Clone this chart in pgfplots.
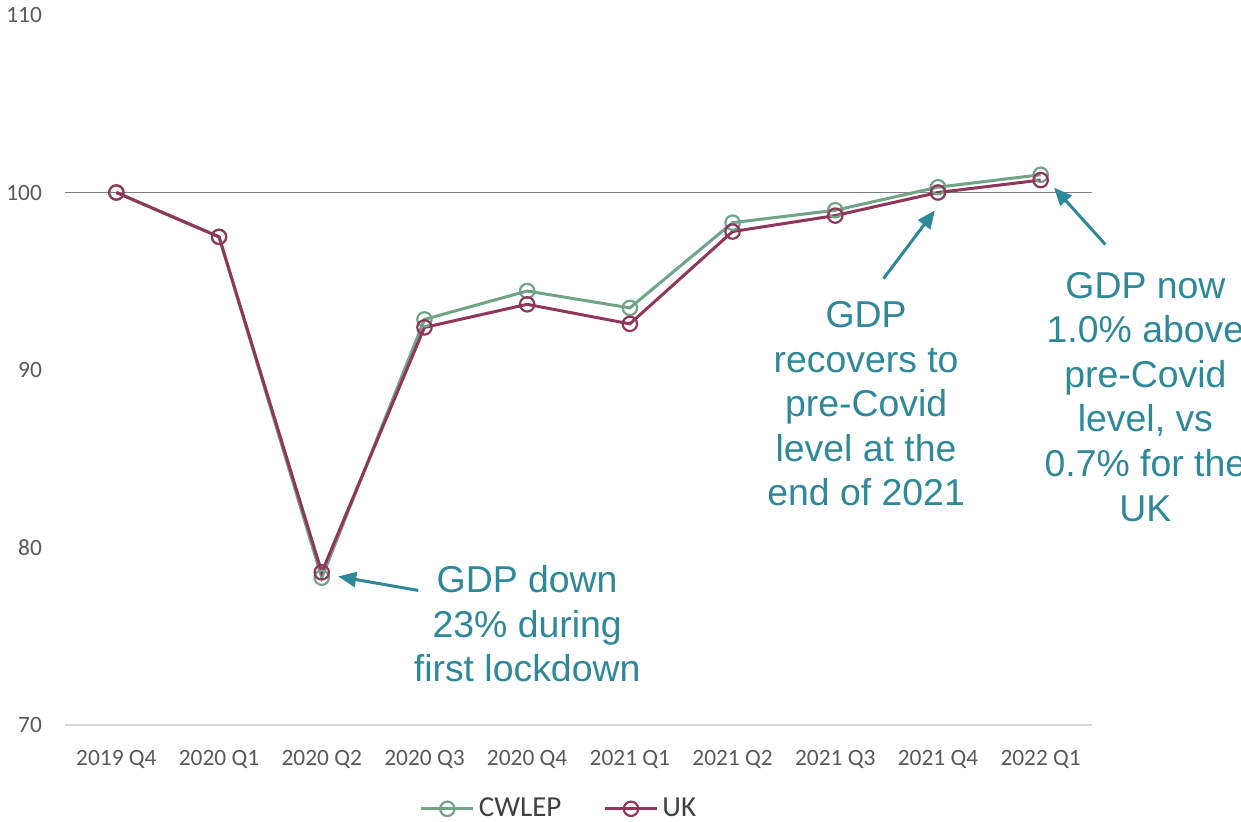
\documentclass[border=0pt]{standalone}
\usepackage{pgfplots}
\pgfplotsset{compat=1.18}
\usepackage{fontspec}
\setmainfont{Carlito}
\newfontfamily\annfont{Liberation Sans}
\usetikzlibrary{arrows.meta}
\definecolor{cwgreen}{RGB}{112,163,136}
\definecolor{ukmaroon}{RGB}{145,54,90}
\definecolor{teal2}{RGB}{46,136,152}
\definecolor{ticktext}{RGB}{89,89,89}
\definecolor{axisgray}{RGB}{217,217,217}
\definecolor{refgray}{RGB}{128,128,128}
\begin{document}
\begin{tikzpicture}[x=1pt,y=1pt]
\begin{axis}[
  at={(0,0)}, anchor=south west,
  scale only axis, width=513.5pt, height=355pt,
  xmin=-0.5, xmax=9.5, ymin=70, ymax=110,
  xtick={0,...,9},
  xticklabels={2019 Q4,2020 Q1,2020 Q2,2020 Q3,2020 Q4,2021 Q1,2021 Q2,2021 Q3,2021 Q4,2022 Q1},
  ytick={70,80,90,100,110},
  /pgf/number format/assume math mode=true,
  major tick length=0pt,
  axis y line*=left, axis x line*=bottom,
  y axis line style={draw=none},
  x axis line style={draw=axisgray, line width=0.75pt, -},
  ticklabel style={font=\fontsize{11.7}{14}\selectfont, text=ticktext},
  xticklabel style={yshift=-9pt},
  yticklabel style={xshift=-8pt},
  clip=false,
  legend columns=2,
  legend style={at={(0.482,-0.118)}, anchor=center, draw=none, fill=none,
    font=\fontsize{14.5}{17}\selectfont, text=black!75,
    /tikz/every even column/.append style={column sep=19pt}},
  legend image code/.code={
    \draw[#1, mark=none] (0pt,0pt) -- (26pt,0pt);
    \draw[#1, only marks] plot coordinates {(13pt,0pt)};
  },
]
\addplot[refgray, line width=0.75pt, forget plot] coordinates {(-0.5,100) (9.5,100)};
\addplot[cwgreen, line width=1.5pt, mark=o, mark size=3.6pt, mark options={fill=white, line width=1.1pt}]
 coordinates {(0,100) (1,97.5) (2,78.3) (3,92.85) (4,94.45) (5,93.5) (6,98.3) (7,99.0) (8,100.3) (9,101.0)};
\addlegendentry{CWLEP}
\addplot[ukmaroon, line width=1.5pt, mark=o, mark size=3.6pt, mark options={fill=white, line width=1.1pt}]
 coordinates {(0,100) (1,97.5) (2,78.6) (3,92.4) (4,93.7) (5,92.6) (6,97.8) (7,98.7) (8,100.0) (9,100.7)};
\addlegendentry{UK}
\node[align=center, text=teal2, font=\annfont\fontsize{18.7}{22.2}\selectfont] at (axis cs:4.0,75.7) {GDP down\\23\% during\\first lockdown};
\node[align=center, text=teal2, font=\annfont\fontsize{18.7}{22.3}\selectfont] at (axis cs:7.30,88.1) {GDP\\recovers to\\pre-Covid\\level at the\\end of 2021};
\node[align=center, text=teal2, font=\annfont\fontsize{18.7}{22.3}\selectfont] at (axis cs:10.02,88.5) {GDP now\\1.0\% above\\pre-Covid\\level, vs\\0.7\% for the\\UK};
\draw[teal2, line width=1.5pt, -{Triangle[length=9pt,width=7.5pt]}] (axis cs:2.94,77.58) -- (axis cs:2.16,78.37);
\draw[teal2, line width=1.5pt, -{Triangle[length=9pt,width=7.5pt]}] (axis cs:7.47,95.15) -- (axis cs:7.97,98.99);
\draw[teal2, line width=1.5pt, -{Triangle[length=9pt,width=7.5pt]}] (axis cs:9.63,97.07) -- (axis cs:9.13,100.28);
\end{axis}
\pgfresetboundingbox
\path[use as bounding box] (-32.5pt,-48pt) rectangle (588pt,362.5pt);
\end{tikzpicture}
\end{document}
